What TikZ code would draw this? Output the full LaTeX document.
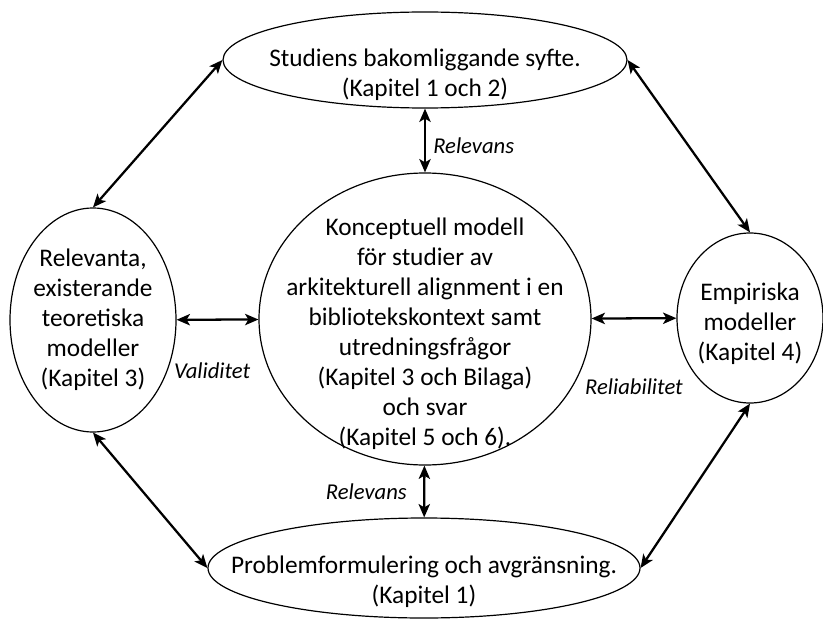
\documentclass[tikz,border=0pt]{standalone}
\usepackage{fontspec}
\setmainfont{Carlito}
\usetikzlibrary{arrows.meta, shapes.geometric}

\begin{document}
\begin{tikzpicture}[
        x=0.75pt, y=-0.75pt,
        >={Stealth[length=10pt, width=8.5pt, inset=2.5pt]},
        % Styles des ellipses
        oval/.style={ellipse, draw=black, line width=0.9pt, inner sep=0pt},
        txt/.style={align=center, font=\fontsize{19}{22.5}\selectfont},
        lbl/.style={font=\fontsize{17}{20}\selectfont\itshape},
        arr/.style={<->, line width=1.7pt},
    ]
        \useasboundingbox (0,0) rectangle (823,620);

        %% ── Ellipses avec coordonnées absolues ──

        \node[oval, minimum width=303pt, minimum height=72pt,
              label={[txt, yshift=-11pt]center:Studiens bakomliggande syfte.\\(Kapitel 1 och 2)}]
              (syfte) at (425, 60) {};
        \node[oval, minimum width=249pt, minimum height=219pt,
              label={[txt, yshift=-11pt]center:Konceptuell modell\\för studier av\\arkitekturell alignment i en\\bibliotekskontext samt\\utredningsfrågor\\(Kapitel 3 och Bilaga)\\och svar\\(Kapitel 5 och 6).}]
              (modell) at (425, 319) {};
        \node[oval, minimum width=124.5pt, minimum height=168pt,
              label={[txt]center:Relevanta,\\existerande\\teoretiska\\modeller\\(Kapitel 3)}]
              (teori) at (93, 320) {};
        \node[oval, minimum width=109.5pt, minimum height=127.5pt,
              label={[txt, yshift=-4pt]center:Empiriska\\modeller\\(Kapitel 4)}]
              (empiri) at (750, 318) {};
        \node[oval, minimum width=324pt, minimum height=75pt,
              label={[txt, yshift=-10.5pt]center:Problemformulering och avgränsning.\\(Kapitel 1)}]
              (problem) at (424, 568) {};

        %% ── Flèches ──

        \draw[arr] (syfte.west) -- (teori.north);
        \draw[arr] (syfte.east) -- (empiri.north);
        \draw[arr] (teori.south) -- (problem.west);
        \draw[arr] (empiri.south) -- (problem.east);

        \draw[arr] (syfte) -- node[lbl, pos=0.58, right=2pt]{Relevans} (modell);
        \draw[arr] (modell) -- node[lbl, left=9pt]{Relevans} (problem);
        \draw[arr] (teori) -- node[lbl, below=28pt, xshift=-4pt]{Validitet} (modell);
        \draw[arr] (modell) -- node[lbl, below=41pt]{Reliabilitet} (empiri);

    \end{tikzpicture}
\end{document}
